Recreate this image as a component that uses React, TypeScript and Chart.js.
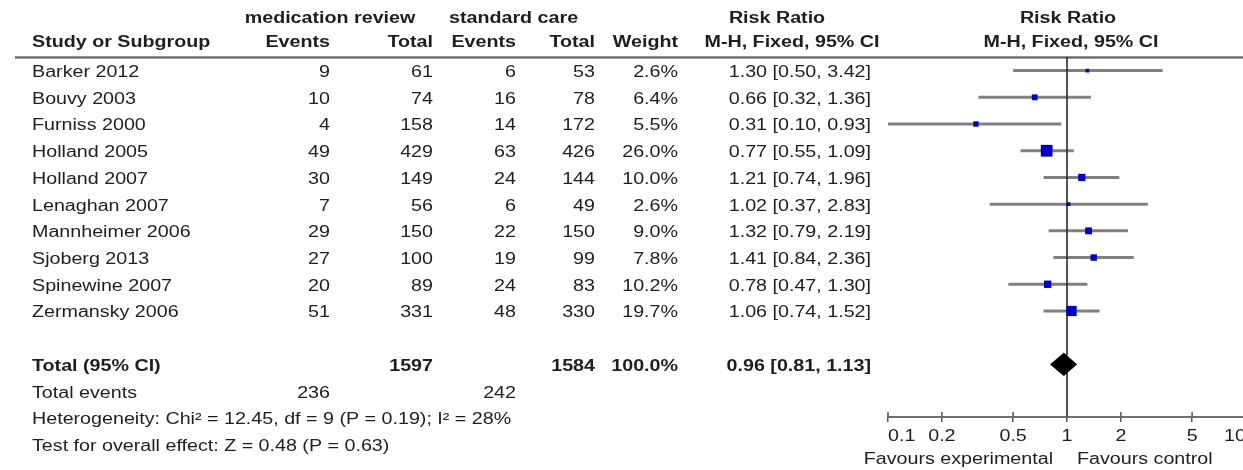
import { useEffect, useRef } from 'react';
import { Chart, registerables } from 'chart.js';

Chart.register(...registerables);

const studies = ['Barker 2012', 'Bouvy 2003', 'Furniss 2000', 'Holland 2005', 'Holland 2007', 'Lenaghan 2007', 'Mannheimer 2006', 'Sjoberg 2013', 'Spinewine 2007', 'Zermansky 2006'];
const expEvents = [9, 10, 4, 49, 30, 7, 29, 27, 20, 51];
const expTotal = [61, 74, 158, 429, 149, 56, 150, 100, 89, 331];
const ctlEvents = [6, 16, 14, 63, 24, 6, 22, 19, 24, 48];
const ctlTotal = [53, 78, 172, 426, 144, 49, 150, 99, 83, 330];
const weights = [2.6, 6.4, 5.5, 26.0, 10.0, 2.6, 9.0, 7.8, 10.2, 19.7];
const riskRatio = [1.30, 0.66, 0.31, 0.77, 1.21, 1.02, 1.32, 1.41, 0.78, 1.06];
const ciLow = [0.50, 0.32, 0.10, 0.55, 0.74, 0.37, 0.79, 0.84, 0.47, 0.74];
const ciHigh = [3.42, 1.36, 0.93, 1.09, 1.96, 2.83, 2.19, 2.36, 1.30, 1.52];

const totalLabel = 'Total (95% CI)';
const totalExpN = 1597;
const totalCtlN = 1584;
const totalWeight = 100.0;
const totalRR = 0.96;
const totalLow = 0.81;
const totalHigh = 1.13;
const totalEventsLabel = 'Total events';
const totalExpEvents = 236;
const totalCtlEvents = 242;
const heterogeneityText = 'Heterogeneity: Chi² = 12.45, df = 9 (P = 0.19); I² = 28%';
const overallEffectText = 'Test for overall effect: Z = 0.48 (P = 0.63)';

const xTicks = [0.1, 0.2, 0.5, 1, 2, 5, 10];
const favoursLabels = ['Favours experimental', 'Favours control'];

const TOTAL_ROW = 11;
const Y_MIN = -0.51;
const Y_MAX = 12.97;

const FONT = '"Liberation Sans", Arial, sans-serif';
const STRETCH = 1.23;
const TEXT_COLOR = '#1e1e1e';

const fmtCI = (r: number, l: number, h: number) => `${r.toFixed(2)} [${l.toFixed(2)}, ${h.toFixed(2)}]`;

const forestPlugin = {
  id: 'forestTable',
  beforeDatasetsDraw(chart: any) {
    const ctx = chart.ctx;
    ctx.save();
    ctx.strokeStyle = '#707070';
    ctx.lineWidth = 2.5;
    ctx.beginPath();
    ctx.moveTo(15, chart.chartArea.top + 0.5);
    ctx.lineTo(chart.width, chart.chartArea.top + 0.5);
    ctx.stroke();
    ctx.restore();
  },
  afterDraw(chart: any) {
    const ctx = chart.ctx;
    const ys = chart.scales.y;
    const xs = chart.scales.x;
    const txt = (s: string, x: number, y: number, align: CanvasTextAlign = 'left', bold = false) => {
      ctx.save();
      ctx.font = `${bold ? 'bold ' : ''}16px ${FONT}`;
      ctx.fillStyle = TEXT_COLOR;
      ctx.textBaseline = 'middle';
      ctx.textAlign = align;
      ctx.translate(x, y);
      ctx.scale(STRETCH, 1);
      ctx.fillText(s, 0, 0);
      ctx.restore();
    };
    const rowY = (i: number) => ys.getPixelForValue(i) + 2;

    // headers
    txt('medication review', 330, 19, 'center', true);
    txt('standard care', 449, 19, 'left', true);
    txt('Risk Ratio', 777, 19, 'center', true);
    txt('Risk Ratio', 1068, 19, 'center', true);
    txt('Study or Subgroup', 32, 43, 'left', true);
    txt('Events', 330, 43, 'right', true);
    txt('Total', 433, 43, 'right', true);
    txt('Events', 516, 43, 'right', true);
    txt('Total', 595, 43, 'right', true);
    txt('Weight', 678, 43, 'right', true);
    txt('M-H, Fixed, 95% CI', 792, 43, 'center', true);
    txt('M-H, Fixed, 95% CI', 1071, 43, 'center', true);

    studies.forEach((s, i) => {
      const y = rowY(i);
      txt(s, 32, y);
      txt(String(expEvents[i]), 330, y, 'right');
      txt(String(expTotal[i]), 433, y, 'right');
      txt(String(ctlEvents[i]), 516, y, 'right');
      txt(String(ctlTotal[i]), 595, y, 'right');
      txt(`${weights[i].toFixed(1)}%`, 678, y, 'right');
      txt(fmtCI(riskRatio[i], ciLow[i], ciHigh[i]), 871, y, 'right');
    });

    const ty = rowY(TOTAL_ROW);
    txt(totalLabel, 32, ty, 'left', true);
    txt(String(totalExpN), 433, ty, 'right', true);
    txt(String(totalCtlN), 595, ty, 'right', true);
    txt(`${totalWeight.toFixed(1)}%`, 678, ty, 'right', true);
    txt(fmtCI(totalRR, totalLow, totalHigh), 871, ty, 'right', true);

    const ey = rowY(TOTAL_ROW + 1);
    txt(totalEventsLabel, 32, ey);
    txt(String(totalExpEvents), 330, ey, 'right');
    txt(String(totalCtlEvents), 516, ey, 'right');
    txt(heterogeneityText, 32, rowY(TOTAL_ROW + 2));
    txt(overallEffectText, 32, rowY(TOTAL_ROW + 3));

    // upward tick marks and tick labels
    const bottom = chart.chartArea.bottom;
    ctx.save();
    ctx.strokeStyle = '#555';
    ctx.lineWidth = 1.5;
    xTicks.forEach((v) => {
      const px = xs.getPixelForValue(v);
      ctx.beginPath();
      ctx.moveTo(px, bottom - 5);
      ctx.lineTo(px, bottom);
      ctx.stroke();
    });
    ctx.restore();
    xTicks.forEach((v, i) => {
      const px = xs.getPixelForValue(v);
      const align: CanvasTextAlign = i === 0 ? 'left' : i === xTicks.length - 1 ? 'right' : 'center';
      txt(String(v), px, bottom + 20, align);
    });
    const onePx = xs.getPixelForValue(1);
    txt(favoursLabels[0], onePx - 14, bottom + 43, 'right');
    txt(favoursLabels[1], onePx + 10, bottom + 43, 'left');
  },
};

export default function App() {
  const ref = useRef<HTMLCanvasElement | null>(null);
  useEffect(() => {
    if (!ref.current) return;
    const ciData: any[] = [];
    studies.forEach((_, i) => {
      ciData.push({ x: ciLow[i], y: i }, { x: ciHigh[i], y: i }, { x: ciHigh[i], y: null });
    });
    const diamondH = 0.42;
    const chart = new Chart(ref.current, {
      type: 'line',
      data: {
        datasets: [
          {
            label: 'diamond',
            data: [
              { x: totalLow, y: TOTAL_ROW },
              { x: totalRR, y: TOTAL_ROW - diamondH },
              { x: totalHigh, y: TOTAL_ROW },
              { x: totalRR, y: TOTAL_ROW + diamondH },
              { x: totalLow, y: TOTAL_ROW },
            ],
            borderColor: '#000',
            backgroundColor: '#000',
            borderWidth: 1,
            pointRadius: 0,
            fill: 'shape',
            tension: 0,
            order: 1,
          } as any,
          {
            label: 'estimates',
            data: studies.map((_, i) => ({ x: riskRatio[i], y: i })),
            showLine: false,
            pointStyle: 'rect',
            pointRadius: weights.map((w) => (2.3 * Math.sqrt(w)) / Math.SQRT2),
            pointBackgroundColor: '#0000CC',
            pointBorderColor: '#0000CC',
            pointBorderWidth: 0,
            order: 2,
          } as any,
          {
            label: 'no effect',
            data: [
              { x: 1, y: Y_MIN },
              { x: 1, y: Y_MAX },
            ],
            borderColor: '#2a2a2a',
            borderWidth: 1.6,
            pointRadius: 0,
            order: 3,
          } as any,
          {
            label: 'ci',
            data: ciData,
            borderColor: '#808080',
            borderWidth: 3,
            pointRadius: 0,
            spanGaps: false,
            order: 4,
          } as any,
        ],
      },
      options: {
        animation: false,
        responsive: false,
        events: [],
        layout: { padding: { left: 888, right: 14, top: 57, bottom: 0 }, autoPadding: false },
        plugins: { legend: { display: false }, tooltip: { enabled: false } },
        scales: {
          x: {
            type: 'logarithmic',
            min: 0.1,
            max: 10,
            afterBuildTicks: (axis: any) => {
              axis.ticks = xTicks.map((v) => ({ value: v }));
            },
            afterFit: (axis: any) => {
              axis.height = 53;
            },
            ticks: { display: false },
            grid: { display: true, drawOnChartArea: false, drawTicks: true, tickLength: 5, color: '#555', lineWidth: 1.5 },
            border: { display: true, color: '#707070', width: 2 },
          },
          y: {
            type: 'linear',
            display: false,
            reverse: true,
            min: Y_MIN,
            max: Y_MAX,
          },
        },
      } as any,
      plugins: [forestPlugin],
    });
    return () => chart.destroy();
  }, []);
  return (
    <div style={{ position: 'absolute', left: 0, top: 0, width: 1243, height: 470, overflow: 'hidden', background: '#fff' }}>
      <canvas ref={ref} width={1260} height={470} style={{ display: 'block' }} />
    </div>
  );
}
